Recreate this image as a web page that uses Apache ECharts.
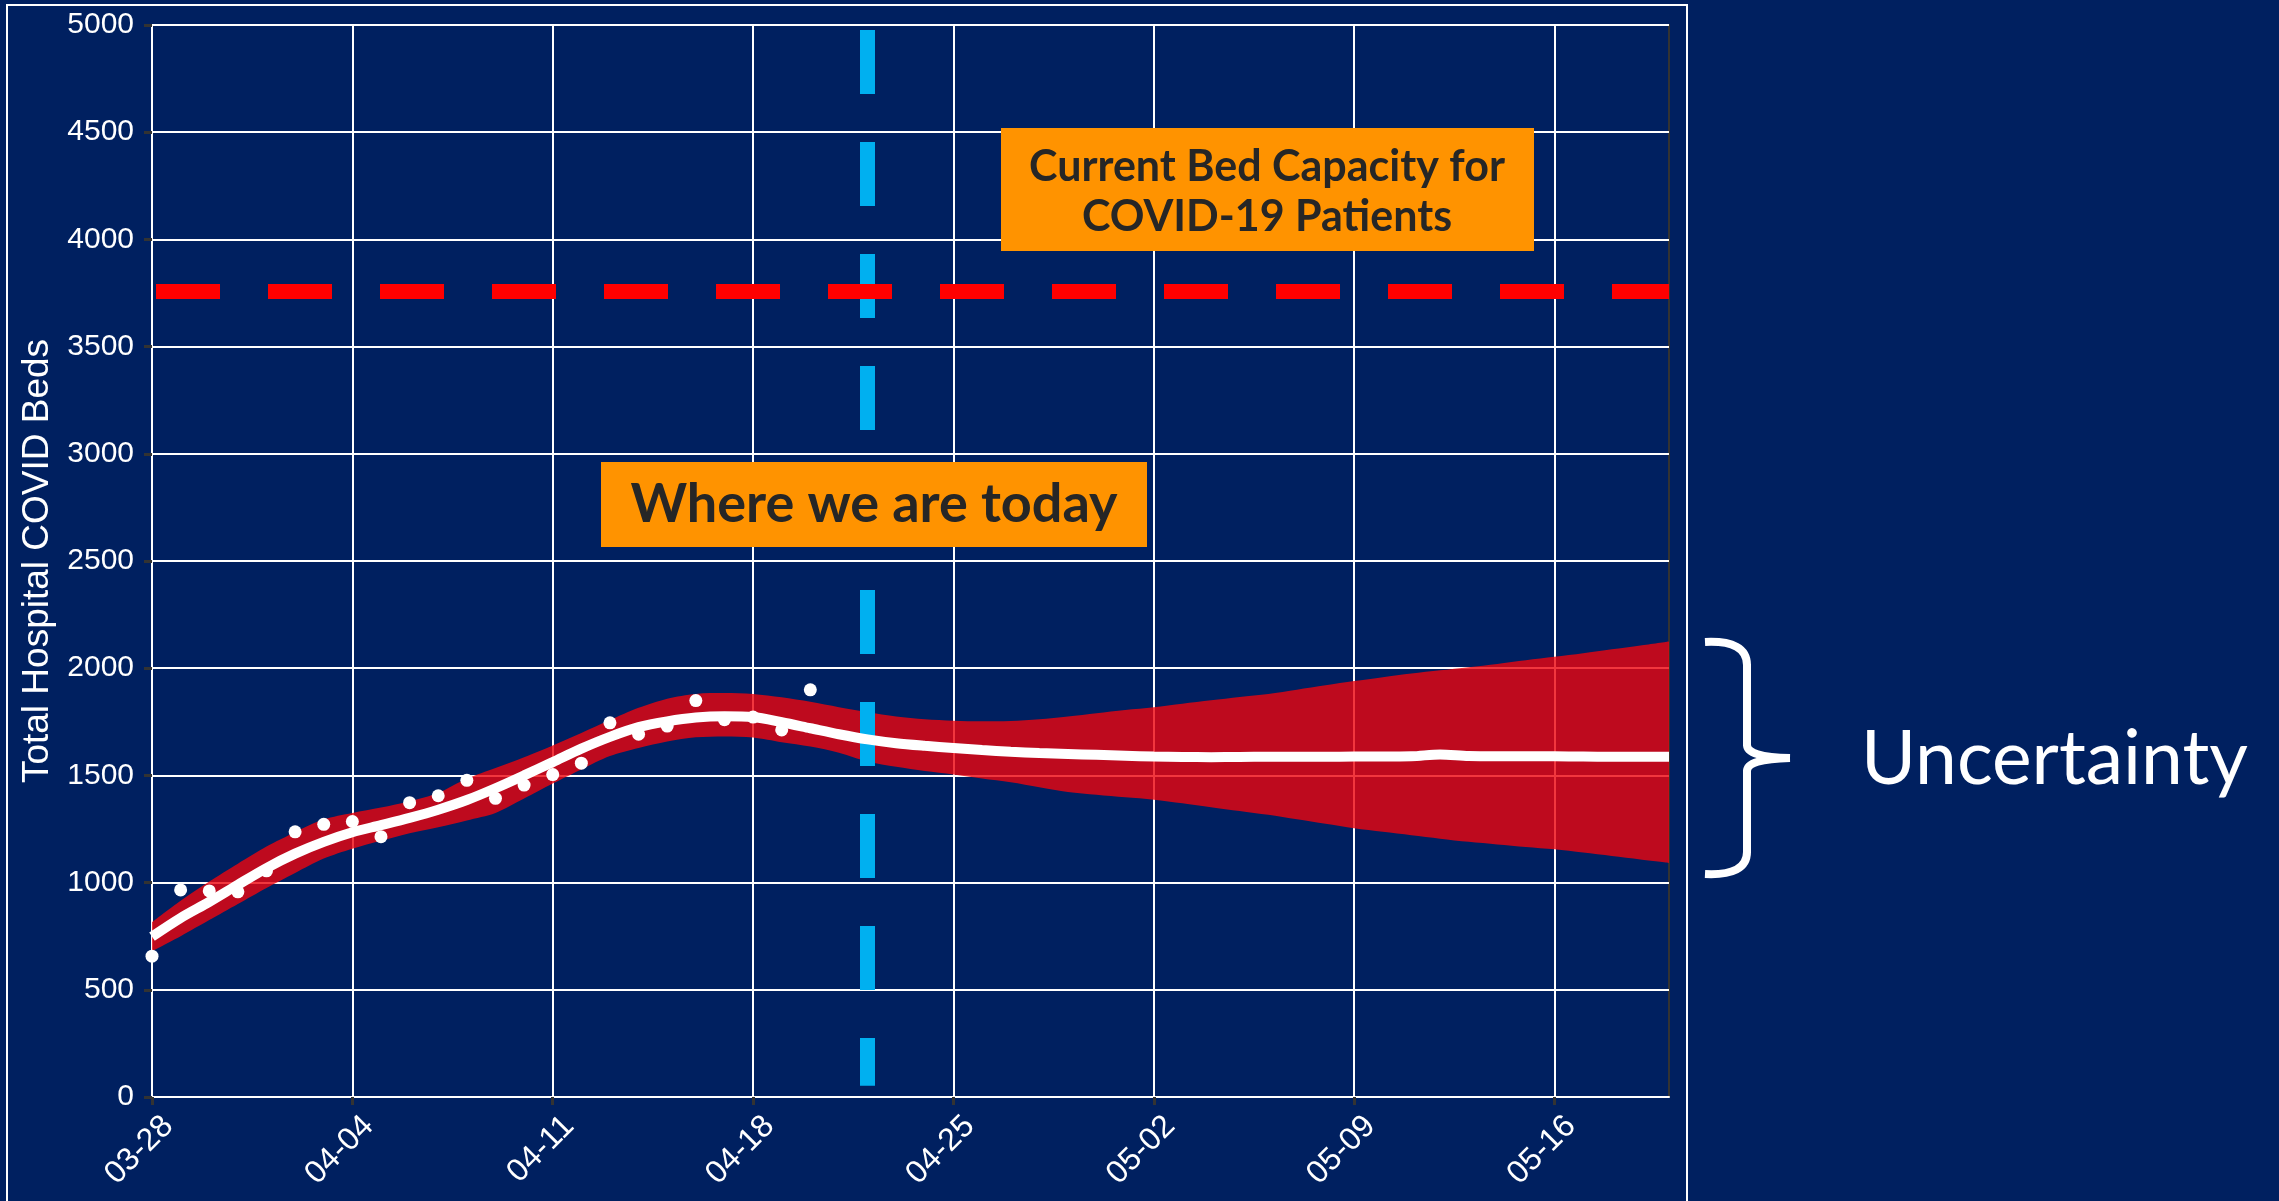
<!DOCTYPE html>
<html>
<head>
<meta charset="utf-8">
<title>COVID hospital beds</title>
<script src="https://cdn.jsdelivr.net/npm/echarts@6/dist/echarts.min.js"></script>
<style>
  html, body { margin: 0; padding: 0; background: #002060; }
  #chart { width: 2279px; height: 1201px; }
</style>
</head>
<body>
<div id="chart"></div>
<script>
// daily categories, 03-28 .. 05-20
const dates = [
  '03-28', '03-29', '03-30', '03-31', '04-01', '04-02', '04-03', '04-04', '04-05', '04-06',
  '04-07', '04-08', '04-09', '04-10', '04-11', '04-12', '04-13', '04-14', '04-15', '04-16',
  '04-17', '04-18', '04-19', '04-20', '04-21', '04-22', '04-23', '04-24', '04-25', '04-26',
  '04-27', '04-28', '04-29', '04-30', '05-01', '05-02', '05-03', '05-04', '05-05', '05-06',
  '05-07', '05-08', '05-09', '05-10', '05-11', '05-12', '05-13', '05-14', '05-15', '05-16',
  '05-17', '05-18', '05-19', '05-20'
];

// observed census (white dots)
const observed = [
  657, 966, 961, 957, 1055, 1237, 1272, 1285, 1214, 1373,
  1405, 1477, 1393, 1455, 1504, 1557, 1745, 1692, 1730, 1849,
  1760, 1772, 1712, 1899
];

// model median (white line)
const median = [
  748, 835, 910, 990, 1068, 1135, 1190, 1235, 1268, 1302,
  1340, 1385, 1440, 1500, 1562, 1625, 1680, 1725, 1752, 1770,
  1776, 1772, 1748, 1720, 1692, 1668, 1650, 1638, 1628, 1618,
  1610, 1604, 1600, 1596, 1592, 1588, 1586, 1585, 1586, 1587,
  1587, 1587, 1588, 1588, 1589, 1598, 1590, 1589, 1589, 1589,
  1588, 1587, 1587, 1587
];

// uncertainty band
const lower = [
  680, 750, 825, 900, 975, 1045, 1112, 1158, 1195, 1230,
  1258, 1290, 1325, 1392, 1462, 1528, 1590, 1628, 1658, 1678,
  1682, 1677, 1655, 1635, 1606, 1565, 1540, 1520, 1504, 1485,
  1468, 1445, 1423, 1410, 1398, 1387, 1370, 1352, 1334, 1316,
  1295, 1274, 1253, 1237, 1221, 1205, 1190, 1178, 1166, 1155,
  1140, 1124, 1108, 1092
];
const upper = [
  815, 915, 1005, 1088, 1168, 1235, 1295, 1325, 1350, 1380,
  1418, 1485, 1535, 1585, 1640, 1698, 1758, 1815, 1858, 1880,
  1884, 1880, 1864, 1843, 1818, 1795, 1775, 1762, 1755, 1752,
  1754, 1762, 1775, 1790, 1805, 1818, 1834, 1850, 1866, 1880,
  1900, 1920, 1940, 1958, 1975, 1990, 2005, 2020, 2037, 2053,
  2070, 2088, 2106, 2125
];

const bedCapacity = 3760;
const today = '04-22';
const todayTop = 4977;
const todayBottom = 52;

const bandSpan = upper.map((u, i) => u - lower[i]);

const navy = '#002060';
const orange = '#FF9300';
const axisFont = "'Liberation Sans', Arial, sans-serif";
const noteFont = "Lato, 'Open Sans', sans-serif";

const chart = echarts.init(document.getElementById('chart'));

chart.setOption({
  backgroundColor: navy,
  animation: false,
  grid: {
    left: 152, right: 610, top: 25, bottom: 104,
    show: true,
    backgroundColor: navy,
    borderColor: '#333',
    borderWidth: 2
  },
  xAxis: {
    type: 'category',
    data: dates,
    boundaryGap: false,
    axisLine: { show: true, lineStyle: { color: '#fff', width: 2 } },
    axisTick: { show: true, interval: 6, length: 8, lineStyle: { color: '#333', width: 3 } },
    axisLabel: {
      interval: 6, rotate: 45, color: '#fff', verticalAlign: 'top', lineHeight: 46,
      fontFamily: axisFont, fontSize: 32, margin: 8
    },
    splitLine: { show: true, interval: 6, lineStyle: { color: '#fff', width: 2 } }
  },
  yAxis: {
    type: 'value',
    min: 0, max: 5000, interval: 500,
    name: 'Total Hospital COVID Beds',
    nameLocation: 'middle',
    nameGap: 80,
    nameTextStyle: { color: '#fff', fontFamily: axisFont, fontSize: 37 },
    axisLine: { show: true, lineStyle: { color: '#fff', width: 2 } },
    axisTick: { show: true, length: 8, lineStyle: { color: '#333', width: 3 } },
    axisLabel: {
      color: '#fff', fontFamily: axisFont, fontSize: 30, margin: 18,
      formatter: (v) => String(v)
    },
    splitLine: { show: true, lineStyle: { color: '#fff', width: 2 } }
  },
  series: [
    {
      name: 'lower', type: 'line', stack: 'band', z: 2,
      data: lower, symbol: 'none', smooth: 0.3,
      lineStyle: { width: 0, opacity: 0 }
    },
    {
      name: 'band', type: 'line', stack: 'band', z: 2,
      data: bandSpan, symbol: 'none', smooth: 0.3,
      lineStyle: { width: 0, opacity: 0 },
      areaStyle: { color: 'rgb(237,5,14)', opacity: 0.8 }
    },
    {
      name: 'observed', type: 'scatter', z: 4,
      data: observed, symbol: 'circle', symbolSize: 13,
      itemStyle: { color: '#fff', opacity: 1 }
    },
    {
      name: 'median', type: 'line', z: 5,
      data: median, symbol: 'none', smooth: 0.3,
      lineStyle: { color: '#fff', width: 10 },
      markLine: {
        silent: true, symbol: 'none', animation: false,
        label: { show: false },
        data: [
          [
            { coord: [today, todayTop], lineStyle: { color: '#00B0F0', width: 15, type: [64, 48] } },
            { coord: [today, todayBottom] }
          ],
          {
            yAxis: bedCapacity,
            lineStyle: { color: '#FF0000', width: 15, type: [64, 48], dashOffset: 108 }
          }
        ]
      }
    }
  ],
  graphic: [
    {
      type: 'rect', silent: true, z: 0,
      shape: { x: 7, y: 5, width: 1680, height: 1230 },
      style: { fill: null, stroke: '#fff', lineWidth: 2 }
    },
    {
      type: 'rect', z: 100,
      shape: { x: 1001, y: 128, width: 533, height: 123 },
      style: { fill: orange }
    },
    {
      type: 'text', z: 101, x: 1267, y: 167,
      style: {
        text: 'Current Bed Capacity for', fill: '#262626',
        font: 'bold 43px ' + noteFont, align: 'center', verticalAlign: 'middle'
      }
    },
    {
      type: 'text', z: 101, x: 1267, y: 217,
      style: {
        text: 'COVID-19 Patients', fill: '#262626',
        font: 'bold 43px ' + noteFont, align: 'center', verticalAlign: 'middle'
      }
    },
    {
      type: 'rect', z: 100,
      shape: { x: 601, y: 462, width: 546, height: 85 },
      style: { fill: orange }
    },
    {
      type: 'text', z: 101, x: 874, y: 505,
      style: {
        text: 'Where we are today', fill: '#262626',
        font: 'bold 54px ' + noteFont, align: 'center', verticalAlign: 'middle'
      }
    },
    // brace
    { type: 'bezierCurve', z: 100, shape: { x1: 1705, y1: 642, cpx1: 1747, cpy1: 640, x2: 1747, y2: 665 }, style: { stroke: '#fff', lineWidth: 8, fill: null } },
    { type: 'line', z: 100, shape: { x1: 1747, y1: 664, x2: 1747, y2: 746 }, style: { stroke: '#fff', lineWidth: 8 } },
    { type: 'bezierCurve', z: 100, shape: { x1: 1747, y1: 745, cpx1: 1747, cpy1: 757, x2: 1790, y2: 758 }, style: { stroke: '#fff', lineWidth: 8, fill: null } },
    { type: 'bezierCurve', z: 100, shape: { x1: 1790, y1: 758, cpx1: 1747, cpy1: 759, x2: 1747, y2: 771 }, style: { stroke: '#fff', lineWidth: 8, fill: null } },
    { type: 'line', z: 100, shape: { x1: 1747, y1: 770, x2: 1747, y2: 853 }, style: { stroke: '#fff', lineWidth: 8 } },
    { type: 'bezierCurve', z: 100, shape: { x1: 1747, y1: 852, cpx1: 1747, cpy1: 876, x2: 1705, y2: 874 }, style: { stroke: '#fff', lineWidth: 8, fill: null } },
    {
      type: 'text', z: 100, x: 1861, y: 760,
      style: {
        text: 'Uncertainty', fill: '#fff',
        font: '75px ' + noteFont, align: 'left', verticalAlign: 'middle'
      }
    }
  ]
});
</script>
</body>
</html>
